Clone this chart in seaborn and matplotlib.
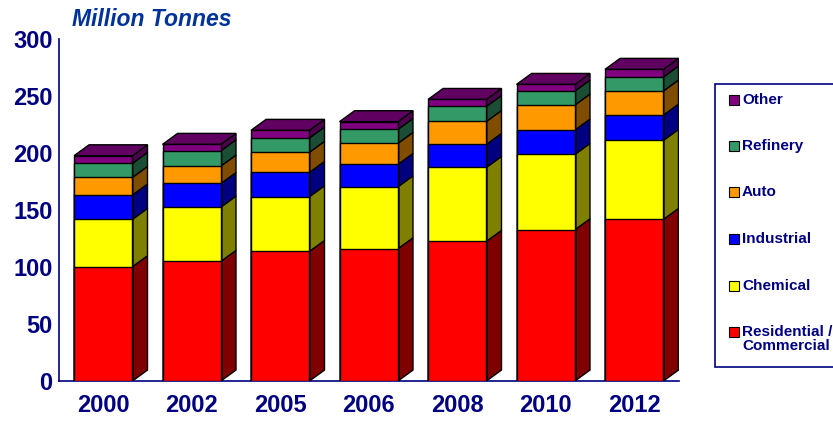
import numpy as np
import pandas as pd
import matplotlib
matplotlib.use("Agg")
import matplotlib.pyplot as plt
from matplotlib.patches import Rectangle, Polygon
import seaborn as sns

years = ["2000", "2002", "2005", "2006", "2008", "2010", "2012"]
series = ["Residential /\nCommercial", "Chemical", "Industrial", "Auto", "Refinery", "Other"]
residential = [100.3, 105.0, 113.7, 116.0, 122.5, 132.7, 141.8]
chemical = [41.5, 47.6, 48.0, 54.4, 64.9, 66.1, 69.3]
industrial = [21.4, 20.7, 21.3, 19.6, 20.2, 21.4, 22.2]
auto = [15.4, 15.3, 17.6, 18.5, 20.1, 21.9, 21.1]
refinery = [12.3, 13.4, 12.6, 12.2, 13.2, 12.3, 12.3]
other = [6.7, 5.6, 6.7, 6.8, 6.1, 5.8, 6.7]
yticks = [0, 50, 100, 150, 200, 250, 300]

front = ["#FF0000", "#FFFF00", "#0000FF", "#FF9900", "#339966", "#800080"]
side = ["#800000", "#808000", "#000080", "#804C00", "#1A4D33", "#4D004D"]
top_col = "#600060"
navy = "#000080"

sns.set_style("white")
plt.rcParams["font.family"] = ["Liberation Sans", "DejaVu Sans"]

vals = np.array([residential, chemical, industrial, auto, refinery, other])
cum = np.cumsum(vals, axis=0)
bottoms = cum - vals

fig = plt.figure(figsize=(8.33, 4.21), dpi=100)
ax = fig.add_axes([59 / 833, 40 / 421, (678.5 - 59) / 833, (381 - 39) / 421])

bw = 0.66
# front faces: draw cumulative totals, top series first
for i in range(len(series) - 1, -1, -1):
    df = pd.DataFrame({"year": years, "value": cum[i]})
    sns.barplot(data=df, x="year", y="value", color=front[i], width=bw,
                edgecolor="black", linewidth=1, saturation=1, ax=ax, zorder=3)

# 3D depth offsets
dx = 0.17
dy = 9.6
pos = np.arange(len(years))
for j, x in enumerate(pos):
    xr = x + bw / 2
    xl = x - bw / 2
    for i in range(len(series)):
        b, t = bottoms[i, j], cum[i, j]
        ax.add_patch(Polygon([(xr, b), (xr + dx, b + dy), (xr + dx, t + dy), (xr, t)],
                             closed=True, facecolor=side[i], edgecolor="black",
                             linewidth=1, zorder=2))
    t = cum[-1, j]
    ax.add_patch(Polygon([(xl, t), (xl + dx, t + dy), (xr + dx, t + dy), (xr, t)],
                         closed=True, facecolor=top_col, edgecolor="black",
                         linewidth=1, zorder=2))

ax.set_xlim(-0.5, len(years) - 0.5)
ax.set_ylim(0, 300)
ax.set_yticks(yticks)
ax.set_xlabel("")
ax.set_ylabel("")
for s in ["top", "right"]:
    ax.spines[s].set_visible(False)
for s in ["left", "bottom"]:
    ax.spines[s].set_color(navy)
    ax.spines[s].set_linewidth(1.2)
ax.set_xticks(np.arange(-0.5, len(years), 1), minor=True)
ax.tick_params(axis="x", which="major", length=0, pad=9, labelsize=17,
               labelcolor=navy)
ax.tick_params(axis="x", which="minor", length=5, color=navy, direction="out")
ax.tick_params(axis="y", length=5, color=navy, direction="out", pad=-0.5,
               labelsize=17, labelcolor=navy)
for lab in ax.get_xticklabels() + ax.get_yticklabels():
    lab.set_fontweight("bold")

fig.text(72 / 833, 1 - 19 / 421, "Million Tonnes", fontsize=16.5, fontweight="bold",
         fontstyle="italic", color="#003399", ha="left", va="center")

# legend
fig.patches.append(Rectangle((715 / 833, 1 - 367 / 421), 130 / 833, 283 / 421,
                             transform=fig.transFigure, facecolor="white",
                             edgecolor=navy, linewidth=1.2))
ys = [100, 146, 192, 239, 286, 332]
for k, i in enumerate(range(len(series) - 1, -1, -1)):
    y = ys[k]
    fig.patches.append(Rectangle((729 / 833, 1 - (y + 5) / 421), 10 / 833, 10 / 421,
                                 transform=fig.transFigure, facecolor=front[i],
                                 edgecolor="black", linewidth=0.8))
    fig.text(742 / 833, 1 - (y - 7) / 421, series[i], fontsize=11,
             fontweight="bold", color=navy, ha="left", va="top", linespacing=1.0)

fig.savefig("out.png", dpi=100)
